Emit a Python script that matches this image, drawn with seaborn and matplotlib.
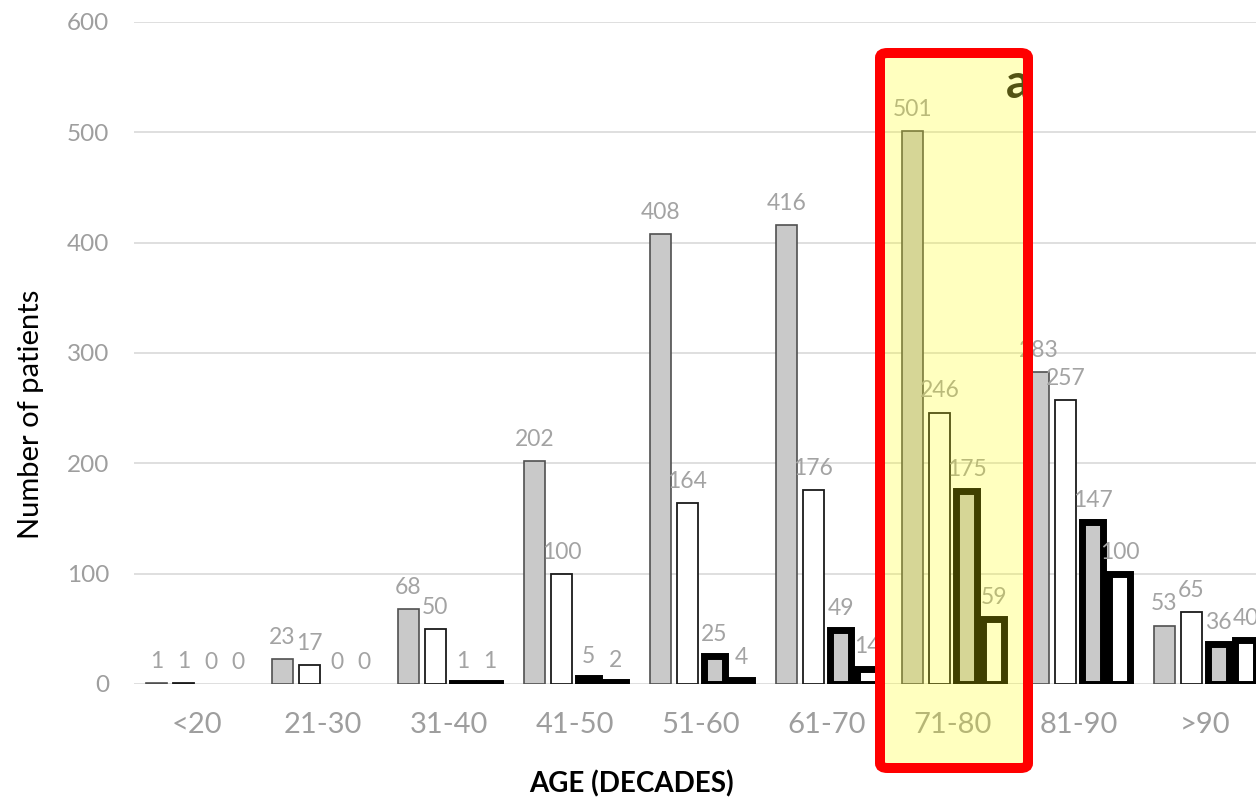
import matplotlib
matplotlib.use("Agg")
import matplotlib.pyplot as plt
from matplotlib.patches import FancyBboxPatch
import pandas as pd
import seaborn as sns

# categories and the four series
age_groups = ["<20", "21-30", "31-40", "41-50", "51-60", "61-70", "71-80", "81-90", ">90"]
series_names = ["S1", "S2", "S3", "S4"]
s1_values = [1, 23, 68, 202, 408, 416, 501, 283, 53]
s2_values = [1, 17, 50, 100, 164, 176, 246, 257, 65]
s3_values = [0, 0, 1, 5, 25, 49, 175, 147, 36]
s4_values = [0, 0, 1, 2, 4, 14, 59, 100, 40]
y_ticks = [0, 100, 200, 300, 400, 500, 600]

# long format table for seaborn
df = pd.DataFrame({
    "Age": age_groups * 4,
    "Series": [name for name in series_names for _ in age_groups],
    "Patients": s1_values + s2_values + s3_values + s4_values,
})

sns.set_theme(style="white")
plt.rcParams["font.family"] = ["Lato", "DejaVu Sans"]

fill_colors = {"S1": "#C9C9C9", "S2": "#FFFFFF", "S3": "#C9C9C9", "S4": "#FFFFFF"}
edge_styles = [("#505050", 1.2), ("#1A1A1A", 1.3), ("#000000", 5.0), ("#000000", 5.0)]
label_grey = "#A3A3A3"

fig = plt.figure(figsize=(12.56, 8), dpi=100)
ax = fig.add_axes([134 / 1256, 1 - 684 / 800, 1134 / 1256, 662 / 800])

sns.barplot(df, x="Age", y="Patients", hue="Series", order=age_groups, hue_order=series_names,
            palette=fill_colors, width=0.86, gap=0.2, errorbar=None, legend=False, ax=ax)

# outlines per series, then the value labels
for container, (edge, lw) in zip(ax.containers, edge_styles):
    for bar in container:
        bar.set_edgecolor(edge)
        # a zero bar with a thick edge would show up as a black line
        bar.set_linewidth(lw if bar.get_height() > 0 else 0)
    ax.bar_label(container, labels=[f"{int(b.get_height())}" for b in container],
                 padding=8, color=label_grey, fontsize=16.5)

ax.set_xlim(-0.5, 8.5)
ax.set_ylim(0, 600)
ax.set_yticks(y_ticks)
ax.set_xlabel("")
ax.set_ylabel("")
ax.tick_params(axis="both", length=0, colors="#9E9E9E")
ax.tick_params(axis="y", labelsize=17.5, pad=18)
ax.tick_params(axis="x", labelsize=21, pad=20)
sns.despine(ax=ax, left=True, bottom=True)
ax.yaxis.grid(True, color="#D9D9D9", linewidth=1.2)
ax.set_axisbelow(True)

fig.text(31 / 1256, 1 - 414 / 800, "Number of patients", rotation=90, ha="center", va="center",
         fontsize=21, color="black")
fig.text(631 / 1256, 1 - 784 / 800, "AGE (DECADES)", ha="center", va="center",
         fontsize=20, fontweight="bold", color="black")

# panel letter, mostly hidden by the highlight frame
fig.text(1006 / 1256, 1 - 98 / 800, "a", ha="left", va="baseline", fontsize=34,
         fontweight="bold", color="#1A1A1A", zorder=4)

# highlight of the 71-80 group
highlight = FancyBboxPatch((880 / 1256, 1 - 768 / 800), 148 / 1256, 715 / 800,
                           boxstyle="round,pad=0,rounding_size=0.006",
                           transform=fig.transFigure, facecolor=(1, 1, 0, 0.25),
                           edgecolor="red", linewidth=7.2, zorder=5)
fig.add_artist(highlight)

fig.savefig("out.png", dpi=100)
